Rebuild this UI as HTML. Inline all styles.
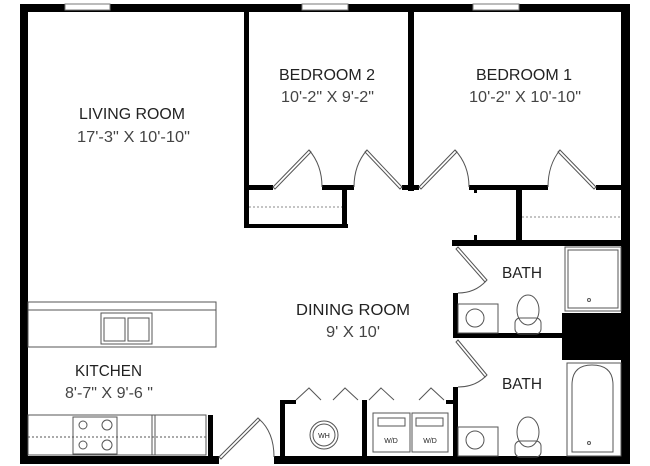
<!DOCTYPE html>
<html><head><style>html,body{margin:0;padding:0;background:#fff}svg{display:block}</style></head>
<body>
<svg width="650" height="466" viewBox="0 0 650 466" xmlns="http://www.w3.org/2000/svg">
<g fill="#000">
<rect x="20" y="4" width="610" height="8"/>
<rect x="20" y="4" width="8" height="460"/>
<rect x="621" y="4" width="9" height="460"/>
<rect x="20" y="456" width="199" height="8"/>
<rect x="274" y="456" width="356" height="8"/>
<rect x="244" y="4" width="5" height="224"/>
<rect x="408" y="4" width="6" height="187"/>
<rect x="244" y="185" width="29" height="5"/>
<rect x="322" y="185" width="32" height="5"/>
<rect x="402" y="185" width="17" height="5"/>
<rect x="469" y="185" width="79" height="5"/>
<rect x="596" y="185" width="27" height="5"/>
<rect x="244" y="224" width="104" height="4"/>
<rect x="342" y="185" width="5" height="43"/>
<rect x="516" y="185" width="6" height="57"/>
<rect x="474" y="189" width="3" height="4"/>
<rect x="474" y="235" width="3" height="6"/>
<rect x="452" y="240" width="171" height="6"/>
<rect x="453" y="240" width="5" height="5"/>
<rect x="453" y="293" width="5" height="45"/>
<rect x="453" y="333" width="110" height="5"/>
<rect x="562" y="313" width="61" height="47"/>
<rect x="453" y="387" width="5" height="72"/>
<rect x="446" y="400" width="12" height="4"/>
<rect x="362" y="400" width="5" height="58"/>
<rect x="280" y="400" width="5" height="58"/>
<rect x="280" y="400" width="16" height="4"/>
<rect x="208" y="415" width="5" height="43"/>
</g>
<g fill="#fff" stroke="#777" stroke-width="1">
<rect x="65" y="4" width="45" height="6"/>
<rect x="302" y="4" width="46" height="6"/>
<rect x="473" y="4" width="46" height="6"/>
</g>
<g fill="none" stroke="#555" stroke-width="1">
<path d="M273 187 L309 150 L311 152 L275 189 Z"/>
<path d="M309 150 Q322 165 322 187"/>
<path d="M402 187 L367 150 L365 152 L400 189 Z"/>
<path d="M367 150 Q354 165 354 187"/>
<path d="M419 187 L455 150 L457 152 L421 189 Z"/>
<path d="M455 150 Q469 165 469 187"/>
<path d="M596 187 L560 150 L558 152 L594 189 Z"/>
<path d="M560 150 Q548 165 548 187"/>
<path d="M458 247 L487 280 L485 282 L456 249 Z"/>
<path d="M486 281 Q475 293 458 293"/>
<path d="M458 340 L487 375 L485 377 L456 342 Z"/>
<path d="M486 376 Q475 387 458 387"/>
<path d="M219 457 L258 418 L260 420 L221 459 Z"/>
<path d="M259 419 Q274 432 274 457"/>
<path d="M296 400 L309 388 L321 400 M333 400 L345 388 L358 400 M369 400 L381 388 L394 400 M419 400 L431 388 L444 400"/>
<path d="M249 207 H342 M522 217 H620" stroke-dasharray="2,2" stroke="#888"/>
<rect x="28" y="302" width="188" height="45"/>
<line x1="28" y1="310" x2="216" y2="310"/>
<rect x="101" y="313" width="51" height="31"/>
<rect x="104" y="318" width="21" height="23"/>
<rect x="128" y="318" width="21" height="23"/>
<rect x="28" y="415" width="178" height="40"/>
<rect x="73" y="417" width="44" height="37"/>
<line x1="152" y1="415" x2="152" y2="455"/><line x1="155" y1="415" x2="155" y2="455"/>
<circle cx="83" cy="425" r="4"/><circle cx="107" cy="425" r="5"/><circle cx="83" cy="445" r="4"/><circle cx="107" cy="445" r="5"/>
<path d="M28 437 H206" stroke-dasharray="2,2"/>
<ellipse cx="324" cy="435" rx="14" ry="14"/><ellipse cx="324" cy="435" rx="11" ry="11"/>
<rect x="373" y="413" width="37" height="39"/><rect x="378" y="418" width="27" height="8"/>
<rect x="412" y="413" width="36" height="39"/><rect x="416" y="418" width="27" height="8"/>
<rect x="565" y="247" width="56" height="64"/><rect x="568" y="250" width="50" height="58"/>
<circle cx="589" cy="300" r="1.5"/>
<rect x="458" y="304" width="40" height="29"/><circle cx="475" cy="318" r="9"/>
<ellipse cx="528" cy="310" rx="11" ry="15"/><rect x="515" y="318" width="26" height="16" rx="5"/>
<rect x="567" y="363" width="54" height="93"/><path d="M572 452 V385 Q572 365 592 365 Q613 365 613 385 V452 Z"/>
<circle cx="589" cy="443" r="1.5"/>
<rect x="458" y="427" width="40" height="29"/><circle cx="475" cy="440" r="9"/>
<ellipse cx="528" cy="432" rx="11" ry="15"/><rect x="515" y="441" width="26" height="16" rx="5"/>
</g>
<g font-family="Liberation Sans, sans-serif" font-size="16" lengthAdjust="spacingAndGlyphs">
<g fill="#222">
<text x="79" y="119" textLength="106" lengthAdjust="spacingAndGlyphs">LIVING ROOM</text>
<text x="279" y="80" textLength="96" lengthAdjust="spacingAndGlyphs">BEDROOM 2</text>
<text x="476" y="80" textLength="96" lengthAdjust="spacingAndGlyphs">BEDROOM 1</text>
<text x="296" y="315" textLength="114" lengthAdjust="spacingAndGlyphs">DINING ROOM</text>
<text x="75" y="376" textLength="67" lengthAdjust="spacingAndGlyphs">KITCHEN</text>
<text x="502" y="278" textLength="40" lengthAdjust="spacingAndGlyphs">BATH</text>
<text x="502" y="389" textLength="40" lengthAdjust="spacingAndGlyphs">BATH</text>
</g>
<g fill="#444">
<text x="77" y="142" textLength="113" lengthAdjust="spacingAndGlyphs">17'-3" X 10'-10"</text>
<text x="281" y="102" textLength="93" lengthAdjust="spacingAndGlyphs">10'-2" X 9'-2"</text>
<text x="469" y="102" textLength="112" lengthAdjust="spacingAndGlyphs">10'-2" X 10'-10"</text>
<text x="326" y="337" textLength="54" lengthAdjust="spacingAndGlyphs">9' X 10'</text>
<text x="65" y="398" textLength="88" lengthAdjust="spacingAndGlyphs">8'-7" X 9'-6 "</text>
</g>
<g fill="#222" font-size="7" text-anchor="middle">
<text x="324" y="438">WH</text>
<text x="391" y="443">W/D</text>
<text x="430" y="443">W/D</text>
</g>
</g>
</svg>
</body></html>
